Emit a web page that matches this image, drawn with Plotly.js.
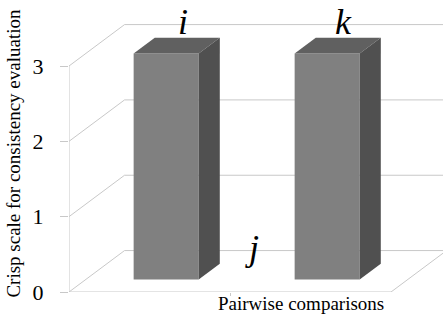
<!DOCTYPE html>
<html>
<head>
<meta charset="utf-8">
<script src="https://cdn.plot.ly/plotly-3.0.1.min.js"></script>
<style>html,body{margin:0;padding:0;background:#fff;}#chart{width:443px;height:317px;}</style>
</head>
<body>
<div id="chart"></div>
<script>
// ---- data ----
const labels = ["i", "j", "k"];
const values = [3, 0, 3];
const yTickVals = [0, 1, 2, 3];
const yTickText = ["0", "1", "2", "3"];
const xTitle = "Pairwise comparisons";
const yTitle = "Crisp scale for consistency evaluation";

// ---- pseudo-3D geometry (in axis units) ----
const nSlots = 2;           // floor width in category slots
const Dx = 0.345, Dy = 0.55; // depth vector of the floor
const f0 = 0.30, f1 = 0.68;  // bar depth (front / back fraction)
const w = 0.202;             // half bar width
const pos = labels.map((_, i) => 0.5 + i * 0.5);

const serif = "Liberation Serif";
const grid = "#c8c8c8";

const traces = [];
// front faces: a real bar trace
traces.push({
  type: "bar",
  x: pos.map(p => p + f0 * Dx),
  y: values,
  base: values.map(() => f0 * Dy),
  width: 2 * w,
  marker: {color: "#808080", line: {width: 0}},
  hoverinfo: "skip",
  showlegend: false
});
// top and side faces
pos.forEach((c, i) => {
  const v = values[i];
  if (v <= 0) return;
  const xl0 = c - w + f0 * Dx, xr0 = c + w + f0 * Dx;
  const xl1 = c - w + f1 * Dx, xr1 = c + w + f1 * Dx;
  const y0 = f0 * Dy, y1 = f1 * Dy;
  traces.push({
    type: "scatter", mode: "lines", fill: "toself",
    x: [xl0, xr0, xr1, xl1, xl0],
    y: [v + y0, v + y0, v + y1, v + y1, v + y0],
    fillcolor: "#606060", line: {width: 0, color: "#606060"},
    hoverinfo: "skip", showlegend: false
  });
  traces.push({
    type: "scatter", mode: "lines", fill: "toself",
    x: [xr0, xr1, xr1, xr0, xr0],
    y: [y0, y1, v + y1, v + y0, y0],
    fillcolor: "#505050", line: {width: 0, color: "#505050"},
    hoverinfo: "skip", showlegend: false
  });
});

// walls & floor
const shapes = [];
const ln = (x0, y0, x1, y1) => ({type: "line", xref: "x", yref: "y", x0, y0, x1, y1,
  line: {color: grid, width: 1}, layer: "below"});
yTickVals.forEach(v => {
  shapes.push(ln(0, v, Dx, v + Dy));
  shapes.push(ln(Dx, v + Dy, nSlots + Dx + 0.2, v + Dy));
});
shapes.push(ln(0, 0, 0, yTickVals[yTickVals.length - 1]));
shapes.push(ln(0, 0, nSlots, 0));
shapes.push(ln(nSlots, 0, nSlots + Dx, Dy));

// labels above bars
const annotations = labels.map((t, i) => ({
  xref: "x", yref: "y",
  x: pos[i] + (values[i] > 0 ? 0.6 : 0.4) * Dx, y: values[i] + f1 * Dy,
  text: t, showarrow: false, xanchor: "center", yanchor: "bottom", yshift: -6,
  font: {family: serif, size: 36, color: "#000", style: "italic"}
}));
annotations.push({
  xref: "paper", yref: "paper", x: -0.147, y: 0.474, textangle: -90,
  text: yTitle, showarrow: false, xanchor: "center", yanchor: "middle",
  font: {family: serif, size: 19, color: "#000"}
});
annotations.push({
  xref: "paper", yref: "paper", x: 0.62, y: -0.041,
  text: xTitle, showarrow: false, xanchor: "center", yanchor: "middle",
  font: {family: serif, size: 19, color: "#000"}
});

const layout = {
  width: 443, height: 317,
  margin: {l: 69, r: 0, t: 0, b: 25, pad: 0},
  paper_bgcolor: "#fff", plot_bgcolor: "#fff",
  showlegend: false,
  font: {family: serif},
  xaxis: {range: [0, 374 / 161], showgrid: false, zeroline: false, showline: false,
    tickvals: [1], ticks: "outside", ticklen: 3, tickcolor: grid, showticklabels: false,
    fixedrange: true},
  yaxis: {range: [0, 292 / 75.33], showgrid: false, zeroline: false, showline: false,
    tickvals: yTickVals, ticktext: yTickText, ticks: "outside", ticklen: 8, tickcolor: grid,
    ticklabelstandoff: 12,
    tickfont: {family: serif, size: 22, color: "#000"}, fixedrange: true},
  shapes, annotations
};

Plotly.newPlot("chart", traces, layout, {displayModeBar: false, staticPlot: true});
</script>
</body>
</html>
